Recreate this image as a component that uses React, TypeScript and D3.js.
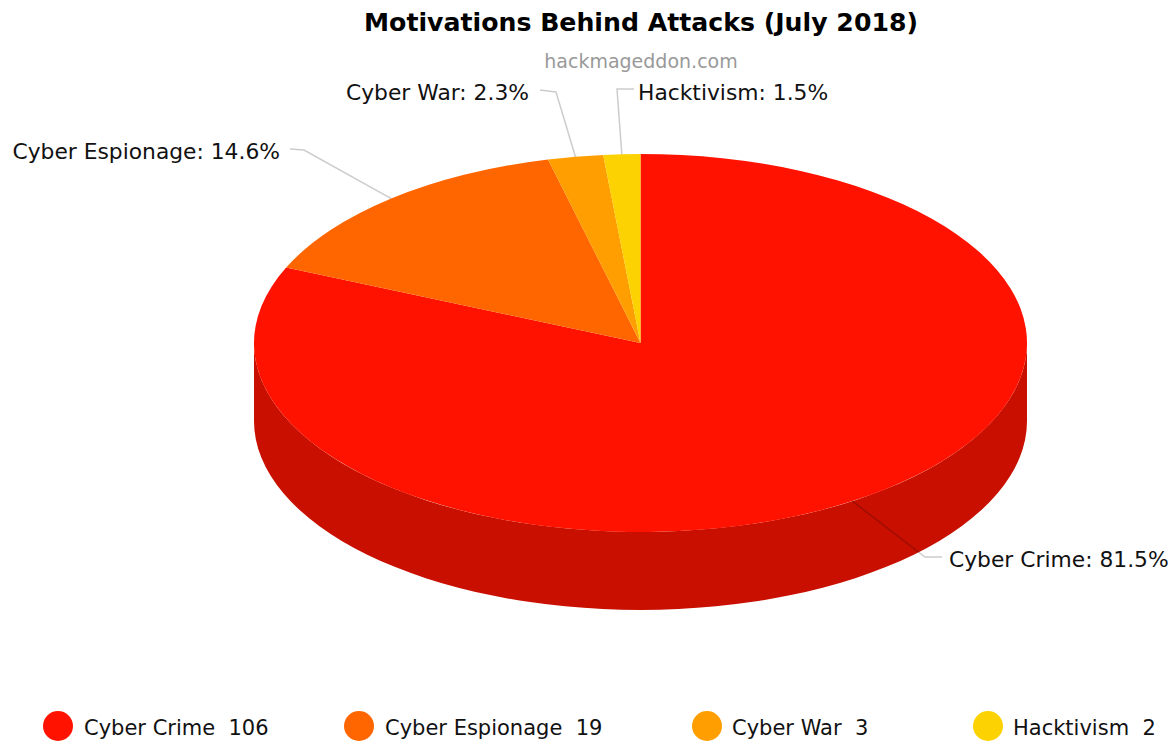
import React from "react";
import * as d3 from "d3";

const categories = ["Cyber Crime", "Cyber Espionage", "Cyber War", "Hacktivism"];
const values = [106, 19, 3, 2];
const percentLabels = ["81.5%", "14.6%", "2.3%", "1.5%"];
const colors = ["#FF1300", "#FF6600", "#FF9E01", "#FCD202"];
const sideColor = "#C80F00";

// label layout: elbow point, label end, anchor
const labelElbowX = [925, 304, 556, 617];
const labelElbowY = [557, 150, 92, 89];
const labelEndX = [942, 290, 540, 634];
const labelEndY = [557, 149, 90, 89];
const labelTextX = [949, 280, 529, 638];
const labelTextY = [567, 159, 100, 100];
const labelAnchors = ["start", "end", "end", "start"];

const legendCircleX = [58, 359, 707, 988];
const legendTextX = [84, 385, 732, 1013];

const W = 1175, H = 744;
const cx = 640.5, cy = 343, rx = 386.5, ry = 189, depth = 78;
const FONT = "'DejaVu Sans', Verdana, sans-serif";

export default function App() {
  const pie = d3.pie<number>().sort(null).startAngle(0).endAngle(2 * Math.PI);
  const arcs = pie(values);
  const arc = d3.arc<d3.PieArcDatum<number>>().innerRadius(0).outerRadius(rx);

  const px = (a: number) => cx + rx * Math.sin(a);
  const py = (a: number) => cy - ry * Math.cos(a);

  const sidePath = (s: number, e: number) => {
    const a0 = Math.max(s, Math.PI / 2);
    const a1 = Math.min(e, (3 * Math.PI) / 2);
    if (a1 <= a0) return null;
    return (
      `M${px(a0)},${py(a0)} A${rx},${ry} 0 0 1 ${px(a1)},${py(a1)} ` +
      `L${px(a1)},${py(a1) + depth} A${rx},${ry} 0 0 0 ${px(a0)},${py(a0) + depth} Z`
    );
  };

  return (
    <svg
      width={W}
      height={H}
      viewBox={`0 0 ${W} ${H}`}
      style={{ position: "absolute", left: 0, top: 0, background: "#fff" }}
      fontFamily={FONT}
    >
      <text x={641} y={31} textAnchor="middle" fontSize={25.2} fontWeight="bold" fill="#000">
        Motivations Behind Attacks (July 2018)
      </text>
      <text x={641} y={68} textAnchor="middle" fontSize={19} fill="#999">
        hackmageddon.com
      </text>

      {arcs.map((d, i) => {
        const p = sidePath(d.startAngle, d.endAngle);
        return p ? <path key={i} d={p} fill={sideColor} /> : null;
      })}
      <g transform={`translate(${cx},${cy}) scale(1,${ry / rx})`}>
        {arcs.map((d, i) => (
          <path key={i} d={arc(d) as string} fill={colors[i]} />
        ))}
      </g>

      {arcs.map((d, i) => {
        const mid = (d.startAngle + d.endAngle) / 2;
        const pts: [number, number][] = [
          [px(mid), py(mid)],
          [labelElbowX[i], labelElbowY[i]],
          [labelEndX[i], labelEndY[i]],
        ];
        return (
          <path
            key={i}
            d={d3.line()(pts) as string}
            fill="none"
            stroke="#000"
            strokeOpacity={0.2}
            strokeWidth={1.5}
          />
        );
      })}

      {categories.map((c, i) => (
        <text
          key={c}
          x={labelTextX[i]}
          y={labelTextY[i]}
          textAnchor={labelAnchors[i] as "start" | "end"}
          fontSize={21.8}
          fill="#111"
        >
          {`${c}: ${percentLabels[i]}`}
        </text>
      ))}

      {categories.map((c, i) => (
        <g key={c}>
          <circle cx={legendCircleX[i]} cy={726} r={15} fill={colors[i]} />
          <text x={legendTextX[i]} y={734.5} fontSize={21} fill="#111" style={{ whiteSpace: "pre" }}>
            {`${c}  ${values[i]}`}
          </text>
        </g>
      ))}
    </svg>
  );
}
